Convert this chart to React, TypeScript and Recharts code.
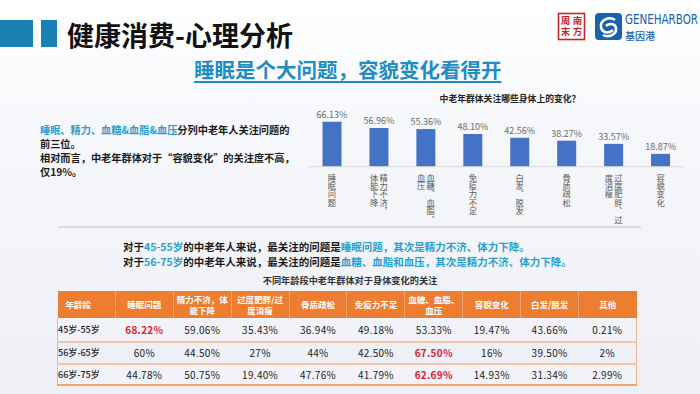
import React from "react"
import { BarChart, Bar, XAxis, YAxis, LabelList } from "recharts"

// bar chart: 中老年群体关注哪些身体上的变化？
const categories = [
    "睡眠问题",
    "精力不济，\n体能下降",
    "血糖、血脂、\n血压",
    "免疫力不足",
    "白发、脱发",
    "骨质疏松",
    "过度肥胖、过\n度消瘦",
    "容貌变化",
]
const concernShare = [66.13, 56.96, 55.36, 48.1, 42.56, 38.27, 33.57, 18.87]

// table: 不同年龄段中老年群体对于身体变化的关注
const tableHeaders = [
    "年龄段",
    "睡眠问题",
    "精力不济，体\n能下降",
    "过度肥胖/过\n度消瘦",
    "骨质疏松",
    "免疫力不足",
    "血糖、血脂、\n血压",
    "容貌变化",
    "白发/脱发",
    "其他",
]
const ageGroups = ["45岁-55岁", "56岁-65岁", "66岁-75岁"]
const age45to55 = ["68.22%", "59.06%", "35.43%", "36.94%", "49.18%", "53.33%", "19.47%", "43.66%", "0.21%"]
const age56to65 = ["60%", "44.50%", "27%", "44%", "42.50%", "67.50%", "16%", "39.50%", "2%"]
const age66to75 = ["44.78%", "50.75%", "19.40%", "47.76%", "41.79%", "62.69%", "14.93%", "31.34%", "2.99%"]

const FONT = "'Noto Sans CJK SC', 'Noto Sans', sans-serif"
const TEAL = "#2b9fd3"
const DARK_TEAL = "#1f8cc2"
const ORANGE = "#ed7d31"
const LOGO_BLUE = "#1b62ad"
const STAMP_RED = "#c4262e"

const chartData = categories.map((name, i) => ({ name, value: concernShare[i] }))
const tableRows = [age45to55, age56to65, age66to75]

// category labels are written top-to-bottom, columns right-to-left
function VerticalTick(props: any) {
    const { x, y, payload } = props
    const cols = String(payload.value).split("\n")
    const colW = 9.4
    return (
        <g>
            {cols.map((col, i) => (
                <text
                    key={i}
                    x={x + ((cols.length - 1) / 2) * colW - i * colW}
                    y={y + 6.6}
                    style={{ writingMode: "vertical-rl" }}
                    letterSpacing={0.1}
                    fontSize={8.3}
                    fontFamily={FONT}
                    fill="#595959"
                >
                    {col}
                </text>
            ))}
        </g>
    )
}

function Logos() {
    return (
        <>
            <svg width={80} height={32} style={{ position: "absolute", left: 555, top: 11 }}>
                {/* 南方周末 stamp, read right column first */}
                <rect x={3.5} y={2.5} width={26} height={26} fill="#fff" stroke={STAMP_RED} strokeWidth={1.6} />
                <text x={22.5} y={5} style={{ writingMode: "vertical-rl" }} letterSpacing={1.5} fontSize={9.5} fill={STAMP_RED} fontFamily={FONT} fontWeight={700}>
                    南方
                </text>
                <text x={10.5} y={5} style={{ writingMode: "vertical-rl" }} letterSpacing={1.5} fontSize={9.5} fill={STAMP_RED} fontFamily={FONT} fontWeight={700}>
                    周末
                </text>
                {/* GENEHARBOR mark */}
                <rect x={40} y={2} width={27} height={27} rx={4} fill={LOGO_BLUE} />
                <path d="M60 9 C 54 5, 45 9, 46 16 C 47 22, 54 23, 58 19" fill="none" stroke="#fff" strokeWidth={2.6} />
                <path d="M48 24 C 53 27, 62 24, 61 17 C 60 12, 54 12, 51 15" fill="none" stroke="#fff" strokeWidth={2.6} />
            </svg>
            <div
                style={{
                    position: "absolute",
                    left: 625,
                    top: 11.5,
                    fontFamily: "'Liberation Sans Narrow', 'DejaVu Sans Condensed', sans-serif",
                    fontSize: 14,
                    lineHeight: "14px",
                    color: LOGO_BLUE,
                    transform: "scaleX(0.82)",
                    transformOrigin: "left center",
                    whiteSpace: "nowrap",
                }}
            >
                GENEHARBOR
            </div>
            <div style={{ position: "absolute", left: 625, top: 29.5, fontSize: 10, lineHeight: "11px", color: LOGO_BLUE, fontWeight: 500, whiteSpace: "nowrap" }}>
                基因港
            </div>
        </>
    )
}

export default function App() {
    return (
        <div
            style={{
                position: "absolute",
                left: 0,
                top: 0,
                width: 700,
                height: 394,
                overflow: "hidden",
                fontFamily: FONT,
                background: "linear-gradient(180deg, #ffffff 0%, #f7f8fb 30%, #eef0f6 100%)",
            }}
        >
            {/* header */}
            <div style={{ position: "absolute", left: 0, top: 20, width: 33, height: 27, background: "#1b80b3" }} />
            <div style={{ position: "absolute", left: 41, top: 20, width: 16, height: 27, background: "#1b80b3" }} />
            <div style={{ position: "absolute", left: 67, top: 17, fontSize: 27, fontWeight: 700, color: "#111", lineHeight: "35px", whiteSpace: "nowrap" }}>
                健康消费-心理分析
            </div>
            <Logos />
            <div
                style={{
                    position: "absolute",
                    left: 194,
                    top: 56,
                    fontSize: 20.5,
                    fontWeight: 700,
                    color: DARK_TEAL,
                    lineHeight: "26px",
                    textDecoration: "underline",
                    textUnderlineOffset: 3,
                    whiteSpace: "nowrap",
                }}
            >
                睡眠是个大问题，容貌变化看得开
            </div>

            {/* left note */}
            <div style={{ position: "absolute", left: 40, top: 123, fontSize: 10.2, fontWeight: 700, color: "#1a1a1a", lineHeight: "14px", whiteSpace: "nowrap" }}>
                <span style={{ color: TEAL }}>睡眠、精力、血糖&amp;血脂&amp;血压</span>分列中老年人关注问题的
                <br />
                前三位。
                <br />
                相对而言，中老年群体对于“容貌变化”的关注度不高，
                <br />
                仅19%。
            </div>

            {/* bar chart */}
            <div style={{ position: "absolute", left: 380, top: 92, width: 260, textAlign: "center", fontSize: 8.8, fontWeight: 700, color: "#222", lineHeight: "14px" }}>
                中老年群体关注哪些身体上的变化？
            </div>
            <div style={{ position: "absolute", left: 300, top: 90 }}>
                <BarChart width={400} height={145} data={chartData} margin={{ top: 8.7, right: 16, left: 8.5, bottom: 0 }}>
                    <XAxis
                        dataKey="name"
                        interval={0}
                        height={68.3}
                        tickSize={0}
                        tickLine={false}
                        tickMargin={0}
                        axisLine={{ stroke: "#d9d9d9" }}
                        tick={<VerticalTick />}
                    />
                    <YAxis hide domain={[0, 100]} />
                    <Bar dataKey="value" fill="#4472c4" barSize={19} isAnimationActive={false}>
                        <LabelList
                            dataKey="value"
                            position="top"
                            offset={4}
                            fontSize={9}
                            fill="#6b6b6b"
                            fontFamily={FONT}
                            formatter={(v: any) => `${Number(v).toFixed(2)}%`}
                        />
                    </Bar>
                </BarChart>
            </div>

            {/* divider */}
            <div style={{ position: "absolute", left: 58, top: 226, width: 583, height: 2, background: "#d8dade" }} />

            {/* age notes */}
            <div style={{ position: "absolute", left: 123, top: 239, fontSize: 10.5, fontWeight: 700, color: "#1a1a1a", lineHeight: "15px", whiteSpace: "nowrap" }}>
                对于<span style={{ color: TEAL }}>45-55岁</span>的中老年人来说，最关注的问题是
                <span style={{ color: TEAL }}>睡眠问题，其次是精力不济、体力下降。</span>
                <br />
                对于<span style={{ color: TEAL }}>56-75岁</span>的中老年人来说，最关注的问题是
                <span style={{ color: TEAL }}>血糖、血脂和血压，其次是精力不济、体力下降。</span>
            </div>

            {/* table */}
            <div style={{ position: "absolute", left: 200, top: 274, width: 300, textAlign: "center", fontSize: 9.2, fontWeight: 700, color: "#333", lineHeight: "13px" }}>
                不同年龄段中老年群体对于身体变化的关注
            </div>
            <table
                style={{
                    position: "absolute",
                    left: 57,
                    top: 291,
                    width: 580,
                    borderCollapse: "collapse",
                    tableLayout: "fixed",
                    fontFamily: FONT,
                }}
            >
                <thead>
                    <tr style={{ height: 27, background: ORANGE }}>
                        {tableHeaders.map((h, i) => (
                            <th
                                key={h}
                                style={{
                                    color: "#fff",
                                    fontSize: 8.5,
                                    fontWeight: 700,
                                    lineHeight: "11px",
                                    whiteSpace: "pre-line",
                                    padding: i === 0 ? "0 0 0 8px" : 0,
                                    textAlign: i === 0 ? "left" : "center",
                                    borderLeft: i === 0 ? "none" : "1px solid #f5a66f",
                                }}
                            >
                                {h}
                            </th>
                        ))}
                    </tr>
                </thead>
                <tbody>
                    {tableRows.map((row, r) => {
                        const peak = Math.max(...row.map((v) => parseFloat(v)))
                        return (
                            <tr
                                key={ageGroups[r]}
                                style={{
                                    height: r === 0 ? 24 : 21.5,
                                    background: r === 1 ? "#eef0f7" : "#f2f3f8",
                                    borderBottom: r === 2 ? "2px solid #f0a46e" : "2px solid #f6c4a2",
                                    borderLeft: "1px solid #f3b287",
                                    borderRight: "1px solid #f3b287",
                                }}
                            >
                                <td style={{ fontSize: 9, color: "#222", padding: 0, textAlign: "left", fontWeight: 500 }}>{ageGroups[r]}</td>
                                {row.map((v, c) => (
                                    <td
                                        key={c}
                                        style={{
                                            fontSize: 10,
                                            padding: 0,
                                            textAlign: "center",
                                            letterSpacing: 0.3,
                                            color: parseFloat(v) === peak ? "#e0202a" : "#222",
                                            fontWeight: parseFloat(v) === peak ? 700 : 400,
                                        }}
                                    >
                                        {v}
                                    </td>
                                ))}
                            </tr>
                        )
                    })}
                </tbody>
            </table>
        </div>
    )
}
